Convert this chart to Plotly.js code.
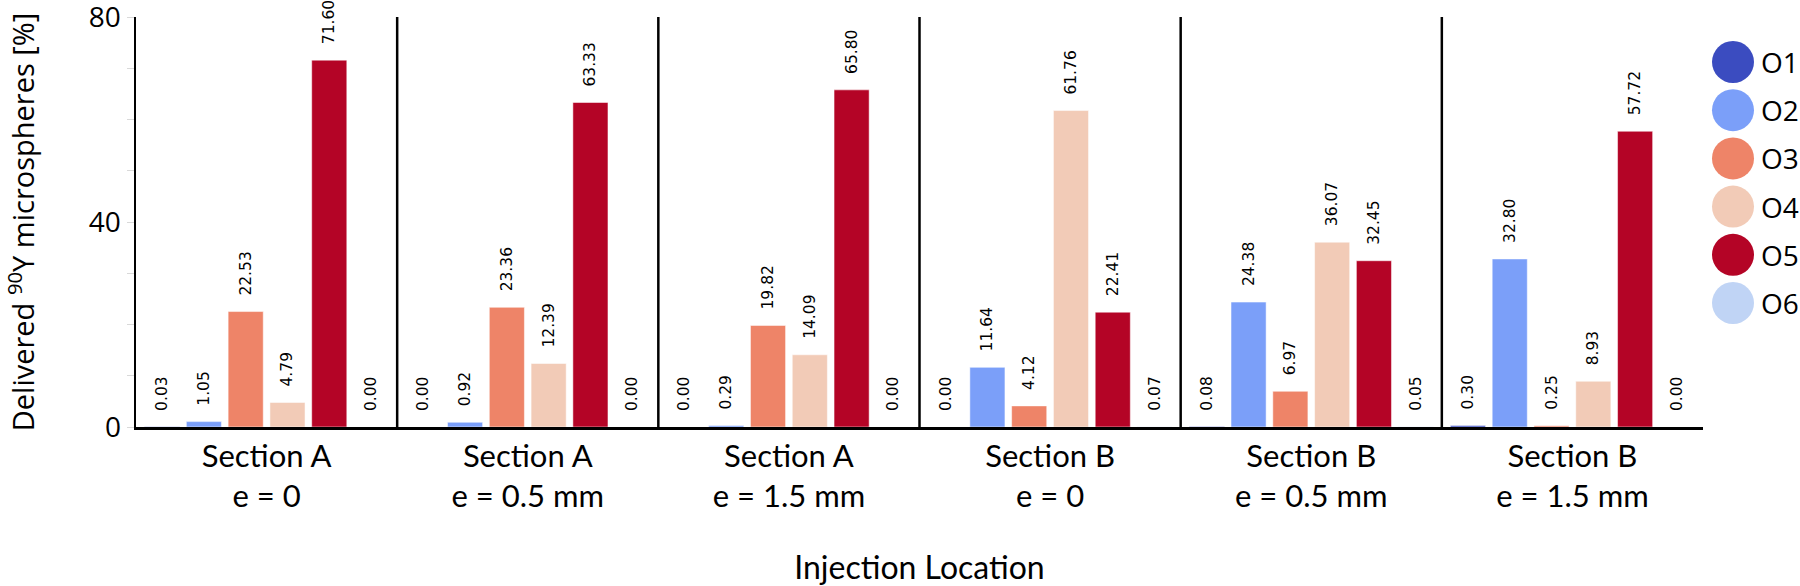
<!DOCTYPE html>
<html>
<head>
<meta charset="utf-8">
<script src="https://cdn.plot.ly/plotly-3.0.1.min.js"></script>
<style>
  html, body { margin: 0; padding: 0; background: #fff; }
  #plot { width: 1800px; height: 586px; }
</style>
</head>
<body>
<div id="plot"></div>
<script>
// Injection locations (one panel each)
var sections = ["Section A", "Section A", "Section A", "Section B", "Section B", "Section B"];
var offsets = ["e = 0", "e = 0.5 mm", "e = 1.5 mm", "e = 0", "e = 0.5 mm", "e = 1.5 mm"];

// Delivered 90Y microspheres [%] per outlet
var outletNames = ["O1", "O2", "O3", "O4", "O5", "O6"];
var o1 = [0.03, 0.00, 0.00, 0.00, 0.08, 0.30];
var o2 = [1.05, 0.92, 0.29, 11.64, 24.38, 32.80];
var o3 = [22.53, 23.36, 19.82, 4.12, 6.97, 0.25];
var o4 = [4.79, 12.39, 14.09, 61.76, 36.07, 8.93];
var o5 = [71.60, 63.33, 65.80, 22.41, 32.45, 57.72];
var o6 = [0.00, 0.00, 0.00, 0.07, 0.05, 0.00];

var yTicks = [0, 40, 80];

var colors = ["#3b4cc0", "#7b9ff9", "#ee8468", "#f2cbb7", "#b40426", "#c0d4f5"];

var categories = sections.map((s, i) => s + "<br>" + offsets[i]);
var series = [o1, o2, o3, o4, o5, o6];

var traceData = series.map((vals, k) => ({
    x: categories,
    y: vals,
    name: outletNames[k],
    type: "bar",
    marker: { color: colors[k], line: { color: "rgba(255,255,255,0.5)", width: 1 } },
    text: vals.map(v => v.toFixed(2)),
    // leading spaces push the rotated label a bit further off the bar
    texttemplate: "\u00a0\u00a0\u2009%{text}",
    textposition: "outside",
    textangle: -90,
    constraintext: "none",
    cliponaxis: false,
    textfont: { family: "DejaVu Sans", size: 15.5, color: "#000" },
    showlegend: false,
    hoverinfo: "x+y+name"
}));

// panel separators at category boundaries
var shapes = [];
for (var i = 0; i < categories.length - 1; i++) {
    shapes.push({
        type: "line", xref: "x", yref: "y",
        x0: i + 0.5, x1: i + 0.5, y0: 0, y1: 80,
        line: { color: "#000", width: 2.5 }
    });
}

// legend: coloured circles with labels
var annotations = [];
outletNames.forEach((name, k) => {
    var cy = 62 + k * 48.2;
    shapes.push({
        type: "circle", xref: "paper", yref: "paper",
        x0: (1712 - 136) / 1567, x1: (1754 - 136) / 1567,
        y0: (427 - cy - 21) / 410, y1: (427 - cy + 21) / 410,
        fillcolor: colors[k], line: { width: 0 }
    });
    annotations.push({
        xref: "paper", yref: "paper",
        x: (1759 - 136) / 1567, y: (427 - cy) / 410,
        xanchor: "left", yanchor: "middle",
        text: name, showarrow: false,
        font: { family: "Open Sans", size: 28, color: "#000" }
    });
});

var layout = {
    width: 1800,
    height: 586,
    margin: { l: 136, r: 97, t: 17, b: 159 },
    paper_bgcolor: "#fff",
    plot_bgcolor: "#fff",
    barmode: "group",
    bargap: 0.04,
    bargroupgap: 0.16,
    showlegend: false,
    xaxis: {
        type: "category",
        range: [-0.5, 5.5],
        showline: true,
        linecolor: "#000",
        linewidth: 2.5,
        ticks: "",
        showgrid: false,
        zeroline: false,
        tickfont: { family: "Lato", size: 31, color: "#000" },
        title: { text: "Injection Location", font: { family: "Lato", size: 32, color: "#000" }, standoff: 46 },
        automargin: false
    },
    yaxis: {
        range: [0, 80.02],
        tickvals: yTicks,
        ticktext: yTicks.map(String),
        ticklabeloverflow: "allow",
        showline: true,
        linecolor: "#000",
        linewidth: 2.5,
        ticks: "outside",
        ticklen: 7,
        tickcolor: "#d9d9d9",
        minor: { dtick: 10, ticks: "outside", ticklen: 7, tickcolor: "#d9d9d9" },
        showgrid: false,
        zeroline: false,
        tickfont: { family: "Open Sans", size: 28, color: "#000" },
        title: { text: "Delivered <sup>90</sup>Y microspheres [%]", font: { family: "Open Sans", size: 29, color: "#000" }, standoff: 56 },
        automargin: false
    },
    shapes: shapes,
    annotations: annotations
};

Plotly.newPlot("plot", traceData, layout, { displayModeBar: false, staticPlot: true });
</script>
</body>
</html>
